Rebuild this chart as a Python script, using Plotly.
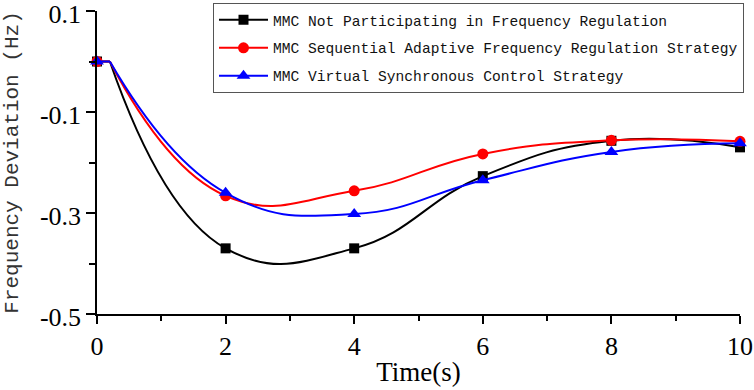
import plotly.graph_objects as go

# ---- data ----
time_s = [0, 2, 4, 6, 8, 10]
step_time = 0.2  # disturbance instant (flat segment before the drop)
not_participating = [0, -0.37, -0.37, -0.227, -0.157, -0.17]
sequential_adaptive = [0, -0.266, -0.256, -0.183, -0.156, -0.158]
virtual_synchronous = [0, -0.26, -0.302, -0.235, -0.179, -0.162]

series_names = [
    "MMC Not Participating in Frequency Regulation",
    "MMC Sequential Adaptive Frequency Regulation Strategy",
    "MMC Virtual Synchronous Control Strategy",
]
series_values = [not_participating, sequential_adaptive, virtual_synchronous]
colors = ["#000000", "#FF0000", "#0000FF"]
symbols = ["square", "circle", "triangle-up"]
marker_sizes = [10, 11, 12]

y_tickvals = [0.1, -0.1, -0.3, -0.5]
y_ticktext = ["0.1", "-0.1", "-0.3", "-0.5"]
y_minor = [0.0, -0.2, -0.4]

fig = go.Figure()
for name, vals, col, sym, ms in zip(series_names, series_values, colors, symbols, marker_sizes):
    grp = name
    # flat segment before the step
    fig.add_trace(go.Scatter(
        x=[time_s[0], step_time], y=[vals[0], vals[0]], mode="lines",
        line=dict(color=col, width=2), showlegend=False, legendgroup=grp,
        hoverinfo="skip"))
    # smooth response curve
    fig.add_trace(go.Scatter(
        x=[step_time] + time_s[1:], y=[vals[0]] + vals[1:], mode="lines",
        line=dict(color=col, width=2, shape="spline", smoothing=1.3),
        showlegend=False, legendgroup=grp, hoverinfo="skip"))
    # markers
    fig.add_trace(go.Scatter(
        x=time_s, y=vals, mode="markers",
        marker=dict(color=col, symbol=sym, size=ms, line=dict(width=0)),
        showlegend=False, legendgroup=grp, cliponaxis=False))
    # legend entry
    fig.add_trace(go.Scatter(
        x=[None], y=[None], mode="lines+markers", name=name,
        line=dict(color=col, width=2),
        marker=dict(color=col, symbol=sym, size=ms, line=dict(width=0)),
        legendgroup=grp))

fig.update_layout(
    width=754, height=390,
    margin=dict(l=97, r=14, t=11, b=76, autoexpand=False),
    paper_bgcolor="white", plot_bgcolor="white",
    showlegend=True,
    legend=dict(
        x=0.1804, y=1.027, xanchor="left", yanchor="top",
        bgcolor="white", bordercolor="#555555", borderwidth=1,
        font=dict(family="Liberation Mono", size=14.6, color="#111111"),
        traceorder="grouped", tracegroupgap=6, itemwidth=49,
    ),
    xaxis=dict(
        range=[0, 10], tick0=0, dtick=2,
        showline=True, linecolor="black", linewidth=1.5,
        ticks="outside", ticklen=8, tickwidth=1.5, tickcolor="black",
        minor=dict(dtick=1, ticks="outside", ticklen=5, tickwidth=1.5, tickcolor="black"),
        showgrid=False, zeroline=False, ticklabeloverflow="allow",
        tickfont=dict(family="Liberation Serif", size=26, color="black"),
        title=dict(text="Time(s)", standoff=2,
                   font=dict(family="Liberation Serif", size=27, color="black")),
    ),
    yaxis=dict(
        range=[-0.5, 0.1], tickmode="array", tickvals=y_tickvals, ticktext=y_ticktext,
        showline=True, linecolor="black", linewidth=1.5,
        ticks="outside", ticklen=9, tickwidth=1.5, tickcolor="black",
        minor=dict(tickvals=y_minor, ticks="outside", ticklen=6, tickwidth=1.5, tickcolor="black"),
        showgrid=False, zeroline=False, ticklabeloverflow="allow", ticklabelshift=3,
        tickfont=dict(family="Liberation Serif", size=26, color="black"),
        title=dict(text="Frequency Deviation (Hz)", standoff=16,
                   font=dict(family="Liberation Mono", size=21, color="#333333")),
    ),
)

fig.write_html("out.html", config={"displayModeBar": False},
               post_script="document.body.style.margin='0';")
